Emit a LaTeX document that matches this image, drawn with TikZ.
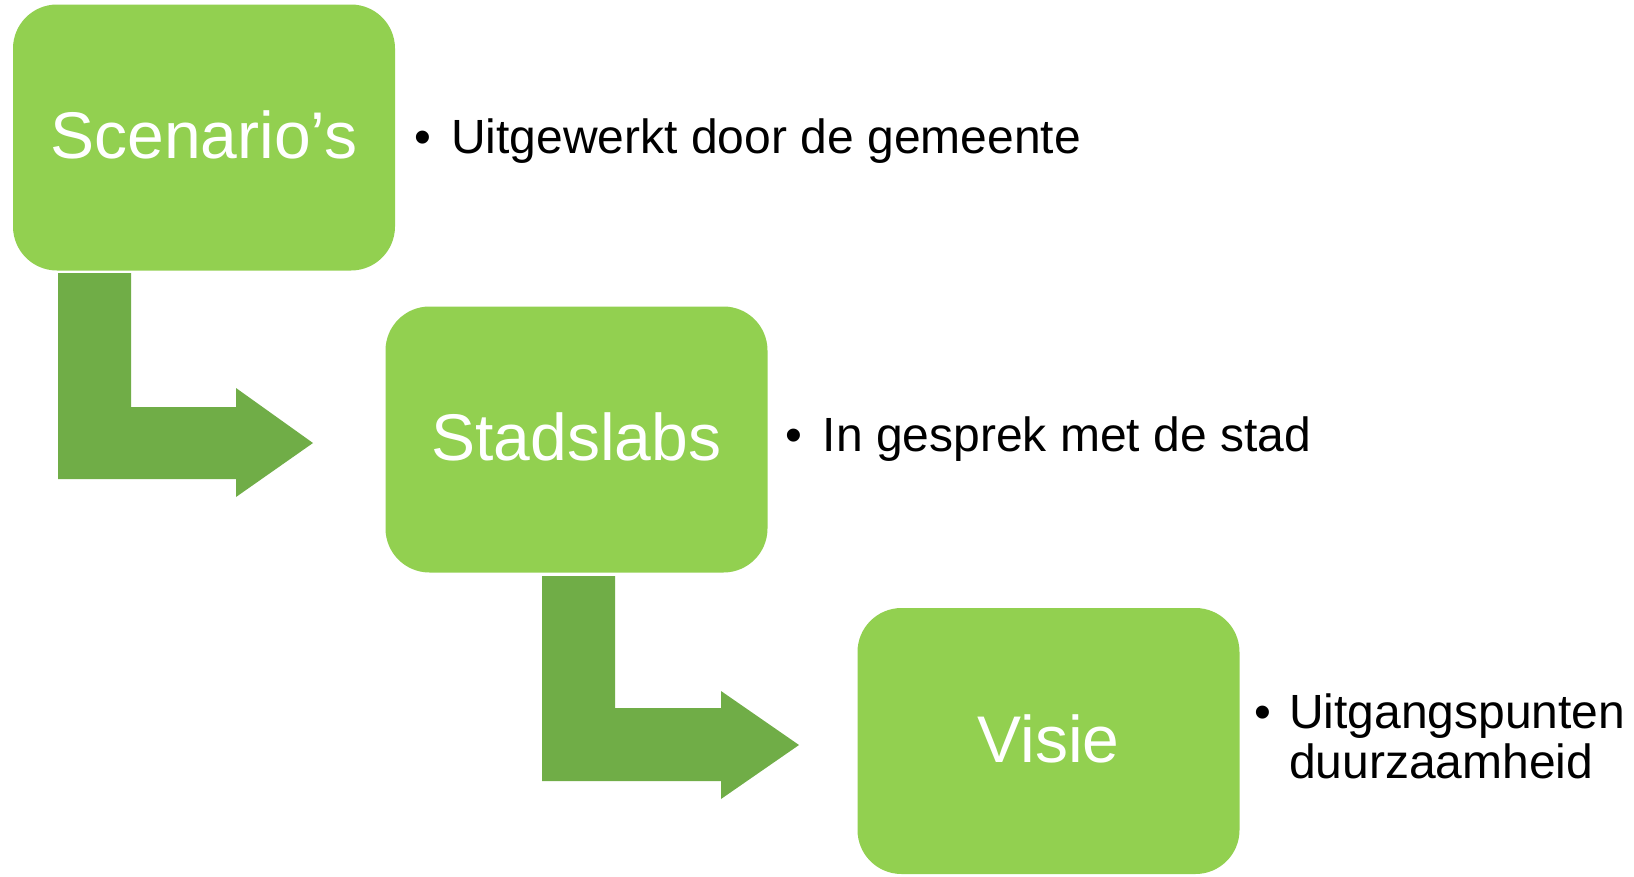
\documentclass[tikz,border=0pt]{standalone}
\usepackage{fontspec}
\setmainfont{Liberation Sans}
\definecolor{boxgreen}{HTML}{92D050}
\definecolor{arrowgreen}{HTML}{70AD47}
\begin{document}
\begin{tikzpicture}[x=1pt,y=-1pt,
  stagebox/.style={fill=boxgreen, draw=none, rounded corners=44pt,
    minimum width=382pt, minimum height=266pt, inner sep=0pt,
    text=white, font=\fontsize{66}{70}\selectfont,
    text height=42pt, text depth=0pt},
  bulletnote/.style={anchor=base west, inner sep=0pt, text=black,
    font=\fontsize{48}{50}\selectfont},
  bentarrow/.style={fill=arrowgreen, draw=none}]
\useasboundingbox (0,0) rectangle (1634,876);
\fill[white] (0,0) rectangle (1634,876);

% boxes
\node[stagebox] (s1) at (204,137.5) {Scenario’s};
\node[stagebox] (s2) at (576.5,439.5) {Stadslabs};
\node[stagebox] (s3) at (1048.5,741) {Visie};

% bent arrows
\fill[bentarrow] (58,273) -- (131,273) -- (131,407) -- (236,407) -- (236,388)
  -- (313,443) -- (236,497) -- (236,479) -- (58,479) -- cycle;
\fill[bentarrow] (542,576) -- (615,576) -- (615,708) -- (721,708) -- (721,691)
  -- (799,745) -- (721,799) -- (721,781) -- (542,781) -- cycle;

% bullet notes
\node[bulletnote] (n1) at (414,153) {\makebox[37pt][l]{•}Uitgewerkt door de gemeente};
\node[bulletnote] (n2) at (785.5,451) {\makebox[37pt][l]{•}In gesprek met de stad};
\node[bulletnote] (n3) at (1254.5,728) {\begin{tabular}[t]{@{}l@{}}\makebox[34.5pt][l]{•}Uitgangspunten\\\hspace*{34.5pt}duurzaamheid\end{tabular}};
\end{tikzpicture}
\end{document}
